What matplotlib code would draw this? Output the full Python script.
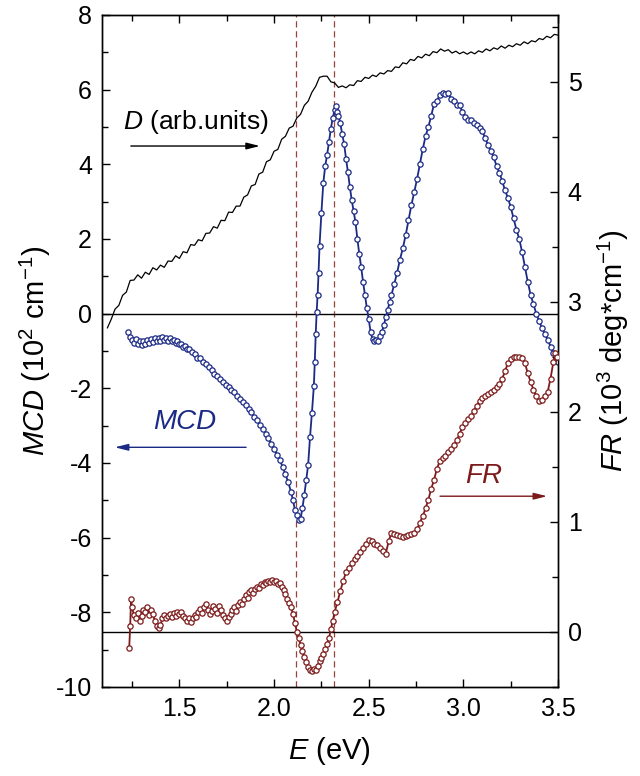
import matplotlib
matplotlib.use('Agg')
import matplotlib.pyplot as plt
from matplotlib.ticker import MultipleLocator

plt.rcParams['font.family'] = ['Liberation Sans', 'DejaVu Sans']
plt.rcParams['mathtext.fontset'] = 'custom'
plt.rcParams['mathtext.rm'] = 'Liberation Sans'
plt.rcParams['mathtext.it'] = 'Liberation Sans:italic'
plt.rcParams['axes.unicode_minus'] = False

# absorption D (arb. units), plotted on the left scale
E_D = [1.12, 1.14, 1.16, 1.18, 1.20, 1.22, 1.24, 1.26, 1.28, 1.30,
       1.32, 1.34, 1.36, 1.38, 1.40, 1.42, 1.44, 1.46, 1.48, 1.50,
       1.52, 1.54, 1.56, 1.58, 1.60, 1.62, 1.64, 1.66, 1.68, 1.70,
       1.72, 1.74, 1.76, 1.78, 1.80, 1.82, 1.84, 1.86, 1.88, 1.90,
       1.92, 1.94, 1.96, 1.98, 2.00, 2.02, 2.04, 2.06, 2.08, 2.10,
       2.12, 2.14, 2.16, 2.18, 2.20, 2.22, 2.24, 2.26, 2.28, 2.30,
       2.32, 2.34, 2.36, 2.38, 2.40, 2.42, 2.44, 2.46, 2.48, 2.50,
       2.52, 2.54, 2.56, 2.58, 2.60, 2.62, 2.64, 2.66, 2.68, 2.70,
       2.72, 2.74, 2.76, 2.78, 2.80, 2.82, 2.84, 2.86, 2.88, 2.90,
       2.92, 2.94, 2.96, 2.98, 3.00, 3.02, 3.04, 3.06, 3.08, 3.10,
       3.12, 3.14, 3.16, 3.18, 3.20, 3.22, 3.24, 3.26, 3.28, 3.30,
       3.32, 3.34, 3.36, 3.38, 3.40, 3.42, 3.44, 3.46, 3.48, 3.50]
D = [-0.38, -0.15, 0.12, 0.22, 0.49, 0.58, 0.89, 0.90, 1.04, 0.95,
     1.11, 1.05, 1.23, 1.17, 1.30, 1.24, 1.41, 1.40, 1.55, 1.48,
     1.66, 1.63, 1.85, 1.83, 1.98, 1.95, 2.15, 2.16, 2.33, 2.29,
     2.50, 2.49, 2.72, 2.71, 2.88, 2.88, 3.12, 3.18, 3.42, 3.46,
     3.74, 3.79, 4.07, 4.12, 4.35, 4.40, 4.67, 4.75, 4.97, 5.02,
     5.24, 5.34, 5.58, 5.69, 5.93, 6.09, 6.33, 6.36, 6.36, 6.21,
     6.18, 6.06, 6.10, 6.05, 6.13, 6.11, 6.24, 6.22, 6.33, 6.30,
     6.39, 6.35, 6.45, 6.42, 6.51, 6.49, 6.61, 6.59, 6.72, 6.69,
     6.81, 6.78, 6.89, 6.85, 6.95, 6.91, 7.02, 6.99, 7.09, 7.03,
     7.07, 6.98, 7.03, 6.96, 7.01, 6.95, 7.01, 6.96, 7.04, 7.00,
     7.09, 7.04, 7.12, 7.08, 7.17, 7.11, 7.19, 7.15, 7.23, 7.19,
     7.28, 7.23, 7.31, 7.28, 7.37, 7.34, 7.43, 7.39, 7.48, 7.46]

# MCD (10^2 cm^-1), left scale
E_MCD = [1.230, 1.240, 1.250, 1.260, 1.270, 1.280, 1.290, 1.300, 1.310, 1.320,
         1.330, 1.340, 1.350, 1.360, 1.370, 1.380, 1.390, 1.400, 1.410, 1.420,
         1.430, 1.440, 1.450, 1.460, 1.470, 1.480, 1.490, 1.500, 1.510, 1.520,
         1.530, 1.540, 1.550, 1.565, 1.580, 1.595, 1.610, 1.625, 1.640, 1.655,
         1.670, 1.685, 1.700, 1.715, 1.730, 1.745, 1.760, 1.775, 1.790, 1.805,
         1.820, 1.835, 1.850, 1.865, 1.880, 1.895, 1.910, 1.925, 1.940, 1.955,
         1.970, 1.985, 2.000, 2.015, 2.030, 2.045, 2.060, 2.075, 2.090, 2.100,
         2.110, 2.120, 2.130, 2.140, 2.150, 2.160, 2.170, 2.180, 2.190, 2.200,
         2.210, 2.215, 2.220, 2.225, 2.230, 2.235, 2.240, 2.250, 2.260, 2.270,
         2.280, 2.290, 2.300, 2.310, 2.320, 2.325, 2.330, 2.340, 2.350, 2.360,
         2.370, 2.380, 2.390, 2.400, 2.410, 2.420, 2.430, 2.440, 2.450, 2.460,
         2.470, 2.480, 2.490, 2.500, 2.510, 2.520, 2.530, 2.540, 2.550, 2.560,
         2.570, 2.580, 2.590, 2.600, 2.610, 2.620, 2.635, 2.650, 2.665, 2.680,
         2.695, 2.710, 2.725, 2.740, 2.755, 2.770, 2.785, 2.800, 2.815, 2.830,
         2.845, 2.860, 2.875, 2.890, 2.905, 2.920, 2.935, 2.950, 2.965, 2.980,
         2.995, 3.010, 3.025, 3.040, 3.055, 3.070, 3.085, 3.100, 3.115, 3.130,
         3.145, 3.160, 3.175, 3.190, 3.205, 3.220, 3.235, 3.250, 3.265, 3.280,
         3.295, 3.310, 3.325, 3.340, 3.355, 3.370, 3.385, 3.400, 3.415, 3.430,
         3.445, 3.460, 3.475, 3.490, 3.500]
MCD = [-0.50, -0.62, -0.70, -0.78, -0.68, -0.80, -0.74, -0.84, -0.72, -0.80,
       -0.70, -0.78, -0.68, -0.76, -0.66, -0.74, -0.64, -0.72, -0.62, -0.70,
       -0.64, -0.72, -0.66, -0.74, -0.70, -0.78, -0.74, -0.82, -0.80, -0.88,
       -0.86, -0.94, -0.96, -1.04, -1.08, -1.18, -1.20, -1.30, -1.34, -1.44,
       -1.50, -1.62, -1.66, -1.76, -1.82, -1.90, -1.96, -2.04, -2.10, -2.20,
       -2.28, -2.36, -2.46, -2.56, -2.64, -2.76, -2.86, -2.98, -3.08, -3.22,
       -3.34, -3.48, -3.62, -3.78, -3.92, -4.10, -4.30, -4.52, -4.78, -5.00,
       -5.25, -5.40, -5.52, -5.50, -5.20, -4.85, -4.45, -4.05, -3.30, -2.65,
       -1.95, -1.30, -0.55, 0.05, 0.50, 1.10, 1.80, 2.70, 3.50, 3.95,
       4.25, 4.60, 4.95, 5.25, 5.45, 5.55, 5.40, 5.30, 5.10, 4.80,
       4.55, 4.15, 3.80, 3.40, 3.05, 2.75, 2.45, 2.00, 1.60, 1.25,
       0.85, 0.50, 0.15, -0.15, -0.50, -0.68, -0.72, -0.70, -0.72, -0.60,
       -0.48, -0.30, -0.10, 0.10, 0.30, 0.50, 0.80, 1.10, 1.45, 1.75,
       2.10, 2.50, 2.90, 3.25, 3.60, 4.00, 4.40, 4.75, 5.00, 5.30,
       5.62, 5.70, 5.85, 5.92, 5.88, 5.90, 5.75, 5.70, 5.60, 5.58,
       5.40, 5.28, 5.20, 5.18, 5.10, 5.05, 4.98, 4.90, 4.70, 4.52,
       4.35, 4.20, 3.95, 3.78, 3.55, 3.30, 3.10, 2.85, 2.55, 2.25,
       2.00, 1.65, 1.25, 0.85, 0.50, 0.25, 0.00, -0.20, -0.38, -0.55,
       -0.70, -0.88, -1.05, -1.20, -1.30]

# Faraday rotation FR (10^3 deg*cm^-1), right scale
E_FR = [1.235, 1.240, 1.245, 1.250, 1.260, 1.270, 1.280, 1.290, 1.300, 1.310,
        1.320, 1.330, 1.340, 1.350, 1.360, 1.370, 1.380, 1.390, 1.400, 1.410,
        1.420, 1.430, 1.440, 1.450, 1.460, 1.470, 1.480, 1.490, 1.500, 1.510,
        1.520, 1.530, 1.540, 1.550, 1.560, 1.570, 1.580, 1.590, 1.600, 1.610,
        1.620, 1.630, 1.640, 1.650, 1.660, 1.670, 1.680, 1.690, 1.700, 1.710,
        1.720, 1.730, 1.740, 1.750, 1.760, 1.770, 1.780, 1.790, 1.800, 1.810,
        1.820, 1.830, 1.840, 1.850, 1.860, 1.870, 1.880, 1.890, 1.900, 1.910,
        1.920, 1.930, 1.940, 1.950, 1.960, 1.970, 1.980, 1.990, 2.000, 2.010,
        2.020, 2.030, 2.040, 2.050, 2.060, 2.070, 2.080, 2.090, 2.100, 2.110,
        2.120, 2.130, 2.140, 2.150, 2.160, 2.170, 2.180, 2.190, 2.200, 2.210,
        2.220, 2.230, 2.240, 2.250, 2.260, 2.270, 2.280, 2.290, 2.300, 2.310,
        2.320, 2.335, 2.350, 2.365, 2.380, 2.395, 2.410, 2.425, 2.440, 2.455,
        2.470, 2.485, 2.500, 2.515, 2.530, 2.545, 2.560, 2.575, 2.590, 2.605,
        2.620, 2.635, 2.650, 2.665, 2.680, 2.695, 2.710, 2.725, 2.740, 2.755,
        2.770, 2.785, 2.800, 2.815, 2.830, 2.845, 2.860, 2.875, 2.890, 2.905,
        2.920, 2.935, 2.950, 2.965, 2.980, 2.995, 3.010, 3.025, 3.040, 3.055,
        3.070, 3.085, 3.100, 3.115, 3.130, 3.145, 3.160, 3.175, 3.190, 3.205,
        3.220, 3.235, 3.250, 3.265, 3.280, 3.295, 3.310, 3.325, 3.340, 3.355,
        3.370, 3.385, 3.400, 3.415, 3.430, 3.445, 3.460, 3.475, 3.485, 3.495]
FR = [-0.15, 0.05, 0.30, 0.22, 0.15, 0.12, 0.17, 0.10, 0.14, 0.20,
      0.18, 0.22, 0.15, 0.20, 0.16, 0.10, 0.05, 0.03, 0.06, 0.12,
      0.15, 0.12, 0.14, 0.16, 0.13, 0.17, 0.14, 0.18, 0.16, 0.18,
      0.14, 0.12, 0.10, 0.12, 0.09, 0.12, 0.15, 0.13, 0.18, 0.21,
      0.17, 0.22, 0.25, 0.20, 0.16, 0.19, 0.23, 0.21, 0.17, 0.23,
      0.20, 0.15, 0.12, 0.10, 0.13, 0.16, 0.20, 0.22, 0.19, 0.24,
      0.27, 0.25, 0.30, 0.33, 0.31, 0.36, 0.38, 0.35, 0.39, 0.41,
      0.40, 0.43, 0.42, 0.45, 0.44, 0.46, 0.45, 0.47, 0.45, 0.46,
      0.43, 0.44, 0.41, 0.38, 0.34, 0.30, 0.26, 0.22, 0.16, 0.08,
      0.00, -0.06, -0.12, -0.18, -0.23, -0.28, -0.32, -0.35, -0.36, -0.34,
      -0.35, -0.31, -0.27, -0.24, -0.20, -0.16, -0.11, -0.06, 0.02, 0.10,
      0.18, 0.27, 0.37, 0.46, 0.54, 0.58, 0.62, 0.66, 0.69, 0.72,
      0.76, 0.80, 0.83, 0.82, 0.80, 0.79, 0.76, 0.73, 0.71, 0.82,
      0.90, 0.89, 0.88, 0.87, 0.86, 0.87, 0.88, 0.89, 0.90, 0.93,
      0.99, 1.05, 1.12, 1.20, 1.30, 1.38, 1.48, 1.55, 1.58, 1.60,
      1.63, 1.66, 1.70, 1.74, 1.80, 1.86, 1.90, 1.93, 1.96, 2.01,
      2.05, 2.10, 2.12, 2.14, 2.16, 2.18, 2.20, 2.22, 2.25, 2.30,
      2.37, 2.44, 2.48, 2.50, 2.50, 2.50, 2.49, 2.44, 2.35, 2.27,
      2.20, 2.14, 2.10, 2.11, 2.14, 2.18, 2.30, 2.45, 2.53, 2.50]

# photon energies of the two marked features
E_marks = [2.117, 2.315]

blue = '#1b2a85'
red = '#7d1a1a'
dash_col = '#94463c'

fig = plt.figure(figsize=(6.4, 7.76), dpi=100)
ax = fig.add_axes([0.159, 0.1147, 0.713, 0.866])
ax2 = ax.twinx()

ax.set_xlim(1.09, 3.5)
ax.set_ylim(-10, 8)
ax2.set_ylim(-0.503, 5.606)

ax.plot(E_D, D, color='black', lw=0.9, zorder=3)
ax.plot(E_MCD, MCD, color=blue, lw=1.3, marker='o', ms=3.8,
        mfc='white', mec=blue, mew=0.9, zorder=4)
ax2.plot(E_FR, FR, color=red, lw=1.3, marker='o', ms=3.8,
         mfc='white', mec=red, mew=0.9, zorder=4)

ax.axhline(0, color='black', lw=1.0, zorder=2)
ax2.axhline(0, color='black', lw=1.0, zorder=2)
for e in E_marks:
    ax.axvline(e, color=dash_col, lw=0.9, ls=(0, (5, 3)), zorder=1)

# annotations
ax.text(1.585, 5.13, r'$\mathit{D}$ (arb.units)', fontsize=19,
        ha='center', va='center')
ax.annotate('', xy=(1.94, 4.49), xytext=(1.229, 4.49),
            arrowprops=dict(arrowstyle='-|>,head_length=0.8,head_width=0.2',
                            color='black', lw=1.0))
ax.text(1.527, -2.91, 'MCD', fontsize=20, style='italic', color=blue,
        ha='center', va='center')
ax.annotate('', xy=(1.144, -3.58), xytext=(1.867, -3.58),
            arrowprops=dict(arrowstyle='-|>,head_length=0.8,head_width=0.2',
                            color=blue, lw=1.0))
ax.text(3.106, -4.36, 'FR', fontsize=20, style='italic', color=red,
        ha='center', va='center')
ax.annotate('', xy=(3.457, -4.89), xytext=(2.862, -4.89),
            arrowprops=dict(arrowstyle='-|>,head_length=0.8,head_width=0.2',
                            color=red, lw=1.0))

# ticks
ax.xaxis.set_major_locator(MultipleLocator(0.5))
ax.xaxis.set_minor_locator(MultipleLocator(0.25))
ax.yaxis.set_major_locator(MultipleLocator(2))
ax.yaxis.set_minor_locator(MultipleLocator(1))
ax2.yaxis.set_major_locator(MultipleLocator(1))
ax2.yaxis.set_minor_locator(MultipleLocator(0.5))
ax.xaxis.set_major_formatter(plt.FormatStrFormatter('%.1f'))

ax.tick_params(axis='both', which='both', direction='in', top=True,
               labelsize=18, pad=7)
ax.tick_params(axis='y', which='both', right=False)
ax.tick_params(which='major', length=6, width=1)
ax.tick_params(which='minor', length=4, width=1)
ax2.tick_params(axis='y', which='both', direction='in', labelsize=18, pad=7)
ax2.tick_params(which='major', length=6, width=1)
ax2.tick_params(which='minor', length=4, width=1)

for a in (ax, ax2):
    for s in a.spines.values():
        s.set_linewidth(1.0)

ax.set_xlabel(r'$\mathit{E}$ (eV)', fontsize=21, labelpad=10)
ax.set_ylabel(r'$\mathit{MCD}$ (10$^2$ cm$^{-1}$)', fontsize=21, labelpad=2)
ax2.set_ylabel(r'$\mathit{FR}$ (10$^3$ deg*cm$^{-1}$)', fontsize=21, labelpad=10)

fig.savefig('out.png', dpi=100)
